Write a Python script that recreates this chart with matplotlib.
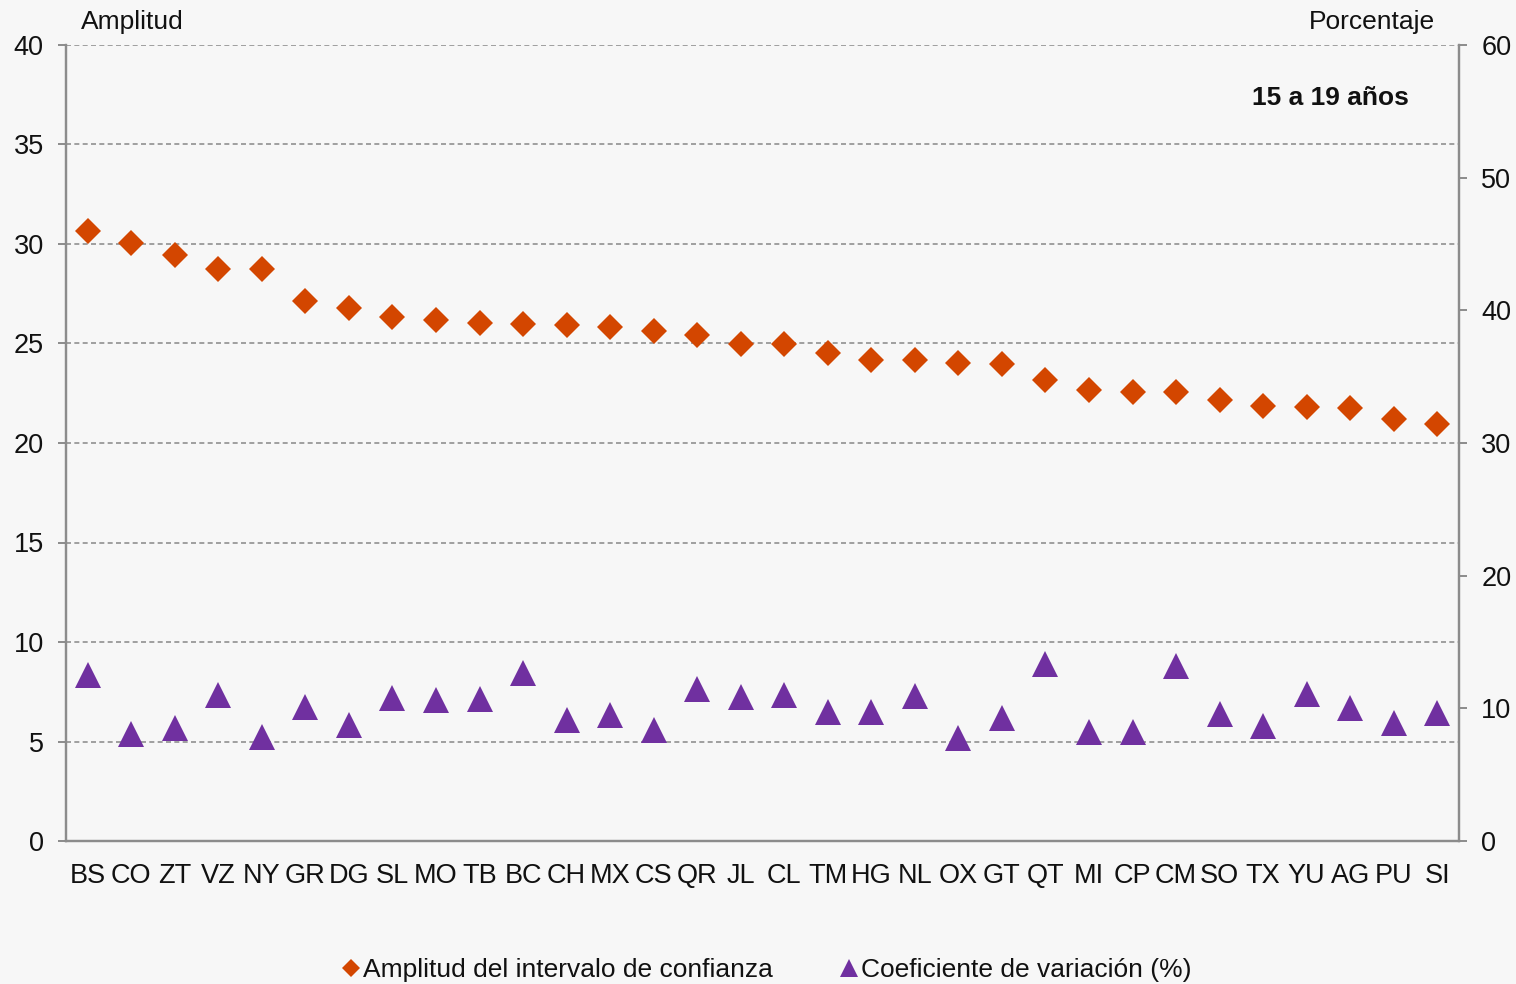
import matplotlib
matplotlib.use("Agg")
import matplotlib.pyplot as plt
from matplotlib.lines import Line2D

plt.rcParams['font.family'] = ['Liberation Sans', 'DejaVu Sans']

categories = ["BS", "CO", "ZT", "VZ", "NY", "GR", "DG", "SL", "MO", "TB", "BC", "CH", "MX", "CS", "QR", "JL",
              "CL", "TM", "HG", "NL", "OX", "GT", "QT", "MI", "CP", "CM", "SO", "TX", "YU", "AG", "PU", "SI"]
amplitud = [30.67, 30.05, 29.45, 28.72, 28.72, 27.16, 26.8, 26.33, 26.16, 26.03, 25.99, 25.91, 25.82, 25.65,
            25.44, 24.98, 24.98, 24.5, 24.16, 24.15, 24.03, 23.99, 23.16, 22.67, 22.55, 22.55, 22.15, 21.85,
            21.8, 21.78, 21.23, 20.93]
coef_var = [12.55, 8.04, 8.48, 10.98, 7.81, 10.09, 8.75, 10.77, 10.6, 10.69, 12.69, 9.13, 9.47, 8.35, 11.48,
            10.88, 11.0, 9.71, 9.73, 10.92, 7.73, 9.28, 13.31, 8.24, 8.24, 13.17, 9.56, 8.68, 11.05, 10.0,
            8.86, 9.67]
left_ticks = [0, 5, 10, 15, 20, 25, 30, 35, 40]
right_ticks = [0, 10, 20, 30, 40, 50, 60]

bg = '#F7F7F7'
orange = '#D34600'
purple = '#7030A0'
axis_gray = '#8C8C8C'

W, H = 1516, 984
fig = plt.figure(figsize=(W / 100, H / 100), dpi=100, facecolor=bg)
ax = fig.add_axes([66 / W, 1 - 841 / H, (1459 - 66) / W, (841 - 45) / H])
ax.set_facecolor(bg)
ax2 = ax.twinx()
ax2.patch.set_visible(False)

x = list(range(len(categories)))
ax.plot(x, amplitud, linestyle='none', marker='D', markersize=13.3, color=orange,
        markeredgewidth=0, zorder=3)
ax2.plot(x, coef_var, linestyle='none', marker='^', markersize=19, color=purple,
         markeredgewidth=0, zorder=3)

ax.set_xlim(-0.5, len(categories) - 0.5)
ax.set_ylim(0, 40)
ax2.set_ylim(0, 60)
ax.set_yticks(left_ticks)
ax2.set_yticks(right_ticks)
ax.set_xticks(x)
ax.set_xticklabels(categories)

ax.yaxis.grid(True, color='#909090', linestyle=(0, (3, 2)), linewidth=1.2)
ax.set_axisbelow(True)

for a in (ax, ax2):
    a.spines['top'].set_visible(False)
    for s in ('left', 'right', 'bottom'):
        a.spines[s].set_color(axis_gray)
        a.spines[s].set_linewidth(1.6)

ax.tick_params(axis='y', direction='out', length=6, width=1.4, color=axis_gray,
               labelsize=19.5, pad=10, labelcolor='#111111')
ax2.tick_params(axis='y', direction='out', length=6, width=1.4, color=axis_gray,
                labelsize=19.5, pad=10, labelcolor='#111111')
ax.tick_params(axis='x', length=0, labelsize=19.5, pad=15.5, labelcolor='#111111')

fig.text(81 / W, 1 - 22 / H, 'Amplitud', fontsize=19, ha='left', va='center', color='#111111')
fig.text(1435 / W, 1 - 22 / H, 'Porcentaje', fontsize=19, ha='right', va='center', color='#111111')
fig.text(1330 / W, 1 - 98 / H, '15 a 19 años', fontsize=19, fontweight='bold', ha='center',
         va='center', color='#111111')

handles = [Line2D([], [], linestyle='none', marker='D', markersize=9, color=orange, markeredgewidth=0),
           Line2D([], [], linestyle='none', marker='^', markersize=13, color=purple, markeredgewidth=0)]
labels = ['Amplitud del intervalo de confianza', 'Coeficiente de variación (%)']
fig.legend(handles, labels, loc='center', bbox_to_anchor=(767 / W, 1 - 970 / H), ncol=2,
           frameon=False, fontsize=19, handlelength=0.6, handletextpad=0.15, columnspacing=2.6,
           labelcolor='#111111', borderpad=0)

fig.savefig('out.png', dpi=100, facecolor=bg)
